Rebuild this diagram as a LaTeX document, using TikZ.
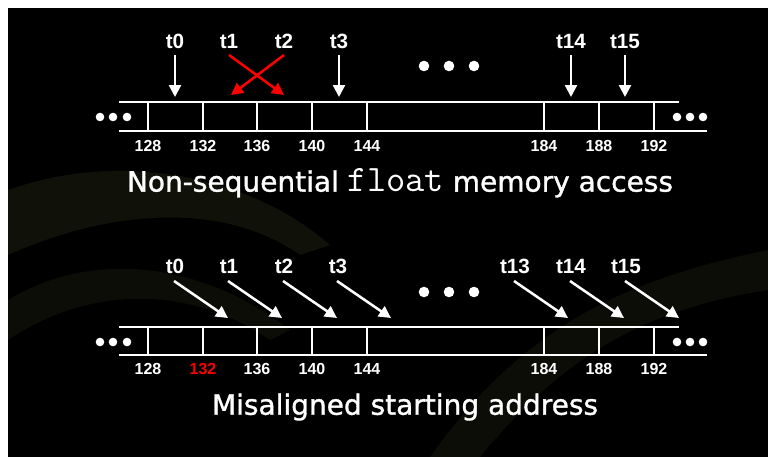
\documentclass[tikz,border=0pt]{standalone}
\usepackage{fontspec}
\usetikzlibrary{arrows.meta}
\newfontfamily\lblfont{Liberation Sans}
\newfontfamily\ttlfont{DejaVu Sans}[FakeBold=1.2]
\definecolor{swoosh}{RGB}{16,17,8}
\definecolor{swooshb}{RGB}{12,13,6}
\newcommand\codeword[1]{{\ttfamily\fontsize{28pt}{28pt}\selectfont #1}}
\begin{document}
\begin{tikzpicture}[x=0.75pt,y=-0.75pt,
  memline/.style={white, line width=2pt},
  warrow/.style={white, line width=1.9pt, -{Triangle[width=9pt,length=9pt]}},
  rarrow/.style={red, line width=1.9pt, -{Triangle[width=9pt,length=9pt]}},
  tlabel/.style={text=white, inner sep=0pt, font=\lblfont\bfseries\fontsize{15.5pt}{15.5pt}\selectfont},
  addr/.style={text=white, inner sep=0pt, font=\lblfont\bfseries\fontsize{12pt}{12pt}\selectfont},
  caption/.style={text=white, inner sep=0pt, font=\ttlfont\fontsize{21pt}{21pt}\selectfont},
  sdot/.style={white, radius=4.3},
  bdot/.style={white, radius=5.3}]
\useasboundingbox (0,0) rectangle (768,457);
\fill[white] (0,0) rectangle (768,457);
\fill[black] (8,8) rectangle (768,457);

% faint background swooshes
\fill[swoosh] (8,190) .. controls (120,150) and (250,175) .. (330,245)
  -- (300,255) .. controls (230,205) and (120,205) .. (8,255) -- cycle;
\fill[swooshb] (8,300) .. controls (90,250) and (200,260) .. (290,330)
  -- (270,340) .. controls (190,285) and (90,285) .. (8,340) -- cycle;
\fill[swooshb] (430,457) .. controls (520,330) and (620,280) .. (768,250)
  -- (768,290) .. controls (640,310) and (560,360) .. (480,457) -- cycle;

% ---------- upper row: non-sequential access ----------
\draw[memline] (119,102) -- (679,102);
\draw[memline] (119,131) -- (707,131);
\foreach \x in {148,203,257,312,367,544,599,654}
  \draw[memline] (\x,102) -- (\x,131);
\foreach \x/\t in {148/128,203/132,257/136,312/140,367/144,544/184,599/188,654/192}
  \node[addr] (ua\t) at (\x,146) {\t};
\foreach \x in {100,113,127} \fill[sdot] (\x,117) circle;
\foreach \x in {677,690,703} \fill[sdot] (\x,117) circle;
\foreach \x in {424,449,474} \fill[bdot] (\x,66) circle;

\foreach \x/\n in {175/0,229/1,284/2,339/3,571/14,625/15}
  \node[tlabel] (ut\n) at (\x,41) {t\n};
\foreach \x/\n in {175/0,339/3,571/14,625/15}{
  \coordinate (us\n) at (\x,55);
  \coordinate (ue\n) at (\x,97);
  \draw[warrow] (us\n) -- (ue\n);
}
\coordinate (us1) at (229,55);
\coordinate (ue1) at (284,95);
\coordinate (us2) at (284,55);
\coordinate (ue2) at (231,95);
\draw[rarrow] (us1) -- (ue1);
\draw[rarrow] (us2) -- (ue2);

\node[caption] (cap1) at (400,183)
  {Non-sequential \codeword{float} memory access};

% ---------- lower row: misaligned start ----------
\draw[memline] (119,327) -- (679,327);
\draw[memline] (119,355) -- (707,355);
\foreach \x in {148,203,257,312,367,544,599,654}
  \draw[memline] (\x,327) -- (\x,355);
\foreach \x/\t in {148/128,257/136,312/140,367/144,544/184,599/188,654/192}
  \node[addr] (la\t) at (\x,369) {\t};
\node[addr, text=red] (la132) at (203,369) {132};
\foreach \x in {100,113,127} \fill[sdot] (\x,342) circle;
\foreach \x in {677,690,703} \fill[sdot] (\x,342) circle;
\foreach \x in {424,449,474} \fill[bdot] (\x,292) circle;

\foreach \x/\n in {175/0,229/1,284/2,338/3,515/13,571/14,626/15}{
  \node[tlabel] (lt\n) at (\x,266) {t\n};
  \coordinate (ls\n) at (\x-1,281);
  \coordinate (le\n) at (\x+53,318);
  \draw[warrow] (ls\n) -- (le\n);
}

\node[caption] (cap2) at (405,407) {Misaligned starting address};
\end{tikzpicture}
\end{document}
